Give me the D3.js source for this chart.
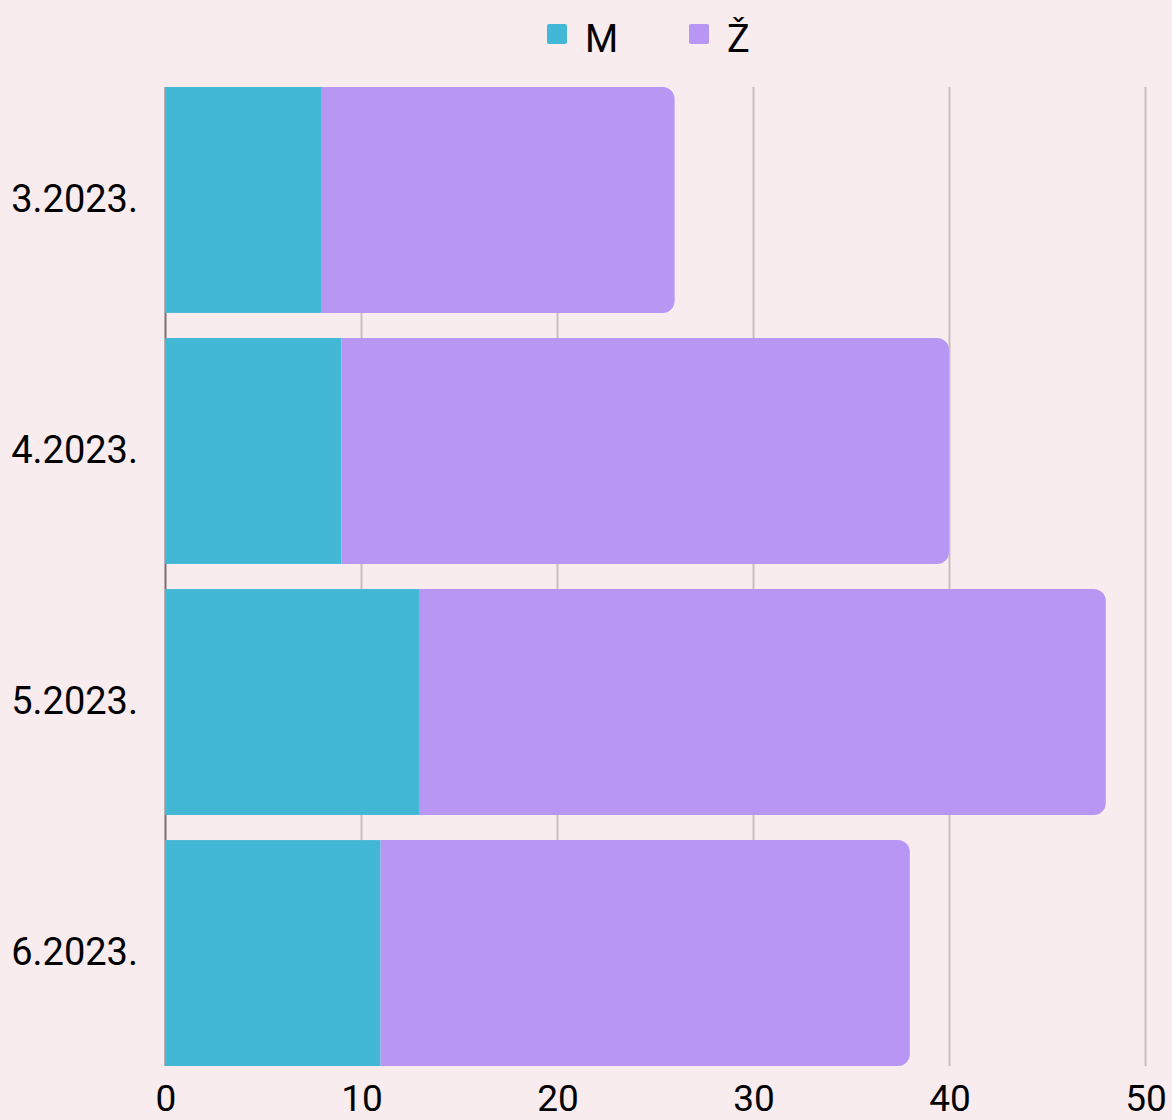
<!DOCTYPE html>
<html>
<head>
<meta charset="utf-8">
<script src="https://cdn.jsdelivr.net/npm/d3@7"></script>
<style>
html,body{margin:0;padding:0;background:#f9ecee;}
svg{display:block;font-family:Roboto, sans-serif;}
</style>
</head>
<body>
<svg id="chart" width="1172" height="1120"></svg>
<script>
const categories = ["3.2023.", "4.2023.", "5.2023.", "6.2023."];
const seriesNames = ["M", "Ž"];
const valuesM = [8, 9, 13, 11];
const valuesZ = [18, 31, 35, 27];
const xTicks = [0, 10, 20, 30, 40, 50];
const colors = ["#42b8d6", "#b896f4"];

const W = 1172, H = 1120;
const margin = {top: 87, right: 27, bottom: 54, left: 165};
const svg = d3.select("#chart");
svg.append("rect").attr("width", W).attr("height", H).attr("fill", "#f9ecee");

const x = d3.scaleLinear().domain([0, 50]).range([margin.left, W - margin.right]);
const y = d3.scaleBand().domain(categories).range([margin.top, H - margin.bottom]).paddingInner(0.1).paddingOuter(0);

const data = categories.map((c, i) => ({cat: c, M: valuesM[i], Z: valuesZ[i]}));

// gridlines
svg.append("g").selectAll("line").data(xTicks.filter(t => t > 0)).join("line")
  .attr("x1", d => x(d) + 0.5).attr("x2", d => x(d) + 0.5)
  .attr("y1", margin.top).attr("y2", H - margin.bottom)
  .attr("stroke", "#c9bdc0").attr("stroke-width", 2);

// left axis line
svg.append("line")
  .attr("x1", x(0) + 0.5).attr("x2", x(0) + 0.5)
  .attr("y1", margin.top).attr("y2", H - margin.bottom)
  .attr("stroke", "#7d6d70").attr("stroke-width", 2);

// bars
const r = 12;
const g = svg.append("g");
g.selectAll(".m").data(data).join("rect")
  .attr("x", x(0)).attr("y", d => y(d.cat))
  .attr("width", d => x(d.M) - x(0)).attr("height", y.bandwidth())
  .attr("fill", colors[0]);
g.selectAll(".z").data(data).join("path")
  .attr("fill", colors[1])
  .attr("d", d => {
    const x0 = x(d.M), x1 = x(d.M + d.Z), y0 = y(d.cat), y1 = y0 + y.bandwidth();
    const p = d3.path();
    p.moveTo(x0, y0);
    p.lineTo(x1 - r, y0);
    p.arcTo(x1, y0, x1, y0 + r, r);
    p.lineTo(x1, y1 - r);
    p.arcTo(x1, y1, x1 - r, y1, r);
    p.lineTo(x0, y1);
    p.closePath();
    return p.toString();
  });

// x axis labels
const xAxis = d3.axisBottom(x).tickValues(xTicks).tickSize(0).tickPadding(19);
const xa = svg.append("g").attr("transform", `translate(0.5,${H - margin.bottom})`).call(xAxis);
xa.select(".domain").remove();
xa.selectAll("text").attr("font-size", 37).attr("font-family", "Roboto").attr("fill", "#000").attr("dy", "0.71em");

// y axis labels
const yAxis = d3.axisLeft(y).tickSize(0).tickPadding(27);
const ya = svg.append("g").attr("transform", `translate(${x(0)},0)`).call(yAxis);
ya.select(".domain").remove();
ya.selectAll("text").attr("font-size", 38).attr("font-family", "Roboto").attr("fill", "#000");

// legend
const legendX = [547, 689];
const lg = svg.append("g");
seriesNames.forEach((n, i) => {
  lg.append("rect").attr("x", legendX[i]).attr("y", 24).attr("width", 20).attr("height", 20)
    .attr("rx", 2).attr("fill", colors[i]);
  lg.append("text").attr("x", legendX[i] + 38).attr("y", 52)
    .attr("font-size", 38).attr("font-family", "Roboto").attr("fill", "#000").text(n);
});
</script>
</body>
</html>
